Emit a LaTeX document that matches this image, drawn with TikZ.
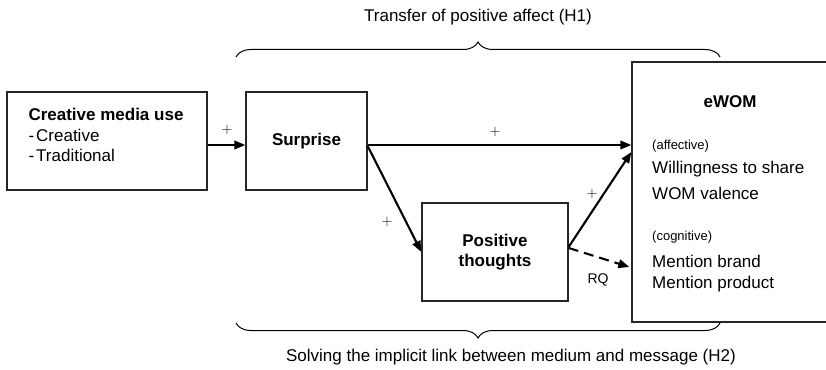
\documentclass[tikz,border=0pt]{standalone}
\usepackage{fontspec}
\setmainfont{Liberation Sans}
\usetikzlibrary{arrows.meta,decorations.pathreplacing}
\begin{document}
\begin{tikzpicture}[x=1pt,y=-1pt,
  box/.style={draw=black!85,line width=1.3pt,rectangle,inner sep=0pt},
  big/.style={font=\fontsize{17}{20.5}\selectfont},
  small/.style={font=\fontsize{13}{15}\selectfont},
  plus/.style={font=\fontsize{15}{17}\selectfont,inner sep=0pt},
  arr/.style={line width=2.1pt,-{Triangle[length=11pt,width=8.5pt]}},
  brc/.style={line width=1pt,decorate,decoration={brace,amplitude=15pt}}]
\clip (0,0) rectangle (826,369);
\fill[white] (0,0) rectangle (826,369);
% boxes
\node[box,minimum width=200pt,minimum height=98pt] (cm) at (107,141) {};
\node[big,align=left] (cmt) at (106,135) {\textbf{Creative media use}\\-\hspace{2pt}Creative\\-\hspace{2pt}Traditional};
\node[box,minimum width=121pt,minimum height=98pt,big] (sur) at (306.5,141) {\textbf{Surprise}};
\node[box,minimum width=146pt,minimum height=98pt,big,align=center] (pt) at (495,252) {\textbf{Positive}\\\textbf{thoughts}};
\node[box,minimum width=200pt,minimum height=260pt] (ewom) at (732,192) {};
% eWOM contents
\node[big] (ew) at (730,102) {\textbf{eWOM}};
\node[small,anchor=west,inner sep=0pt] (aff) at (652,146) {(affective)};
\node[big,anchor=west,inner sep=0pt] (wil) at (652,169) {Willingness to share};
\node[big,anchor=west,inner sep=0pt] (val) at (652,193) {WOM valence};
\node[small,anchor=west,inner sep=0pt] (cog) at (652,237) {(cognitive)};
\node[big,anchor=west,inner sep=0pt] (mb) at (652,261) {Mention brand};
\node[big,anchor=west,inner sep=0pt] (mp) at (652,284) {Mention product};
% arrows
\draw[arr] ([yshift=-4pt]cm.east) -- ([yshift=-4pt]sur.west);
\draw[arr] ([yshift=-4pt]sur.east) -- ([yshift=-4pt]sur.east -| ewom.west);
\draw[arr] ([yshift=-5pt]sur.east) -- (pt.west);
\draw[arr] ([yshift=5pt]pt.east) -- ([yshift=40pt]ewom.west);
\draw[arr,dashed,dash pattern=on 10pt off 6pt] ([yshift=4pt]pt.east) -- ([yshift=-75pt,xshift=-2pt]ewom.west);
% labels
\node[plus] (p1) at (227,130) {$+$};
\node[plus] (p2) at (495,132) {$+$};
\node[plus] (p3) at (387,222) {$+$};
\node[plus] (p4) at (592,194) {$+$};
\node[font=\fontsize{14}{16}\selectfont] (rq) at (598,280) {RQ};
% braces
\coordinate (t1) at (236,57);
\coordinate (t2) at (720,57);
\coordinate (b1) at (236,323);
\coordinate (b2) at (720,323);
\draw[brc] (t1) -- (t2);
\draw[brc] (b2) -- (b1);
\node[big] (tt) at (478,17) {Transfer of positive affect (H1)};
\node[big] (bt) at (511,357) {Solving the implicit link between medium and message (H2)};
\end{tikzpicture}
\end{document}
